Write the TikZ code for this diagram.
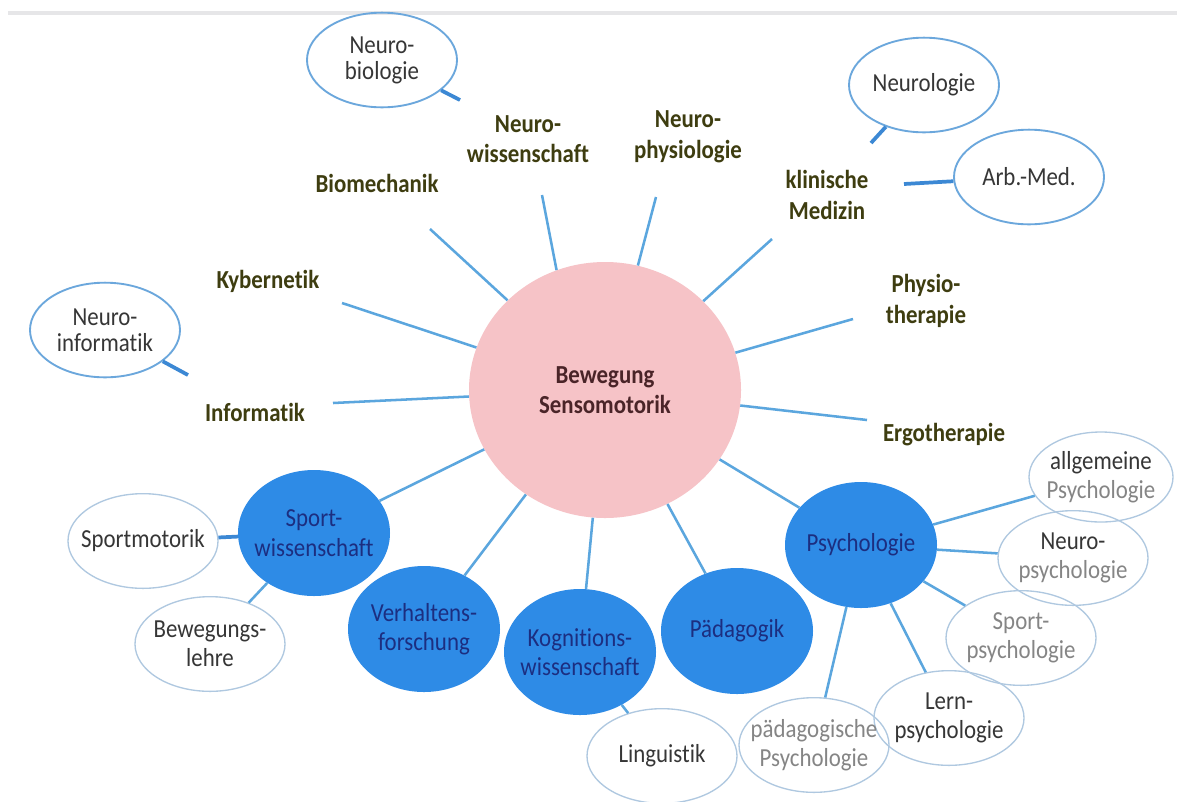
\documentclass[tikz,border=0pt]{standalone}
\usepackage{fontspec}
\setmainfont{Carlito}[FakeStretch=0.88, Ligatures=NoCommon]
\usetikzlibrary{shapes.geometric}
\definecolor{pinkfill}{HTML}{F6C3C7}
\definecolor{bluefill}{HTML}{2E8BE6}
\definecolor{spokeblue}{HTML}{5BA6DE}
\definecolor{stubblue}{HTML}{3C88D4}
\definecolor{rimdark}{HTML}{6BA7DC}
\definecolor{rimlight}{HTML}{AFC8E0}
\definecolor{olivetext}{HTML}{3E3D10}
\definecolor{navytext}{HTML}{1C2E80}
\definecolor{darktext}{HTML}{363636}
\definecolor{greytext}{HTML}{858585}
\definecolor{pinktext}{HTML}{4A2428}
\definecolor{topline}{HTML}{E6E6E8}
\begin{document}
\begin{tikzpicture}[x=0.75pt,y=-0.75pt,
 every node/.style={align=center},
 field/.style={font=\fontsize{19.5pt}{23pt}\selectfont\bfseries, text=olivetext, inner sep=0pt},
 core/.style={ellipse, fill=pinkfill, minimum width=204pt, minimum height=192pt, inner sep=-20pt,
   font=\fontsize{19.5pt}{23pt}\selectfont\bfseries, text=pinktext},
 disc/.style={ellipse, fill=bluefill, minimum width=114pt, minimum height=94.5pt, inner sep=-18pt,
   text=navytext, font=\fontsize{19.5pt}{22pt}\selectfont},
 bubble/.style={ellipse, draw=rimlight, line width=1pt, minimum width=112.5pt, minimum height=71pt,
   inner sep=-18pt, text=darktext, font=\fontsize{19.5pt}{21.5pt}\selectfont},
 bubbledark/.style={bubble, draw=rimdark, line width=1.4pt},
 spoke/.style={draw=spokeblue, line width=1.9pt},
 stub/.style={draw=stubblue, line width=2.8pt},
]
\fill[white] (0,0) rectangle (1177,801);
\useasboundingbox (0,0) rectangle (1177,801);
\draw[topline, line width=3pt] (8,13) -- (1177,13);

% centre
\node[core] (core) at (605,390) {Bewegung\\Sensomotorik};

% blue disciplines
\node[disc] (sport) at (314,533) {Sport-\\wissenschaft};
\node[disc] (verh) at (424,629) {Verhaltens-\\forschung};
\node[disc] (kogn) at (580,652) {Kognitions-\\wissenschaft};
\node[disc] (paed) at (737,631) {Pädagogik};
\node[disc] (psych) at (861,545) {Psychologie};

% field labels
\node[field] (nwiss) at (528,139) {Neuro-\\wissenschaft};
\node[field] (nphys) at (688,137) {Neuro-\\physiologie};
\node[field] (bio) at (377,183) {Biomechanik};
\node[field] (klin) at (827,195) {klinische\\Medizin};
\node[field] (kyb) at (268,281) {Kybernetik};
\node[field] (physio) at (926,301) {Physio-\\therapie};
\node[field] (inf) at (255,412) {Informatik};
\node[field] (ergo) at (944,435) {Ergotherapie};

% bubbles
\node[bubbledark, font=\fontsize{19.5pt}{19.5pt}\selectfont] (nbio) at (382,60) {Neuro-\\biologie};
\node[bubbledark, font=\fontsize{19.5pt}{19.5pt}\selectfont] (ninf) at (105,330) {Neuro-\\informatik};
\node[bubbledark] (nlog) at (924,85) {Neurologie};
\node[bubbledark] (arb) at (1029,177) {Arb.-Med.};
\node[bubble] (smot) at (143,541) {Sportmotorik};
\node[bubble] (bewl) at (210,644) {Bewegungs-\\lehre};
\node[bubble] (ling) at (662,756) {Linguistik};
\node[bubble, minimum width=108pt, minimum height=67.5pt] (allg) at (1101,477) {allgemeine\\\textcolor{greytext}{Psychologie}};
\node[bubble] (npsy) at (1073,558) {Neuro-\\\textcolor{greytext}{psychologie}};
\node[bubble, text=greytext] (spsy) at (1021,638) {Sport-\\psychologie};
\node[bubble] (lpsy) at (949,718) {Lern-\\psychologie};
\node[bubble, text=greytext] (ppsy) at (814,745) {pädagogische\\Psychologie};

% spoke ends near the field labels
\coordinate (bio-e) at (430,229);
\coordinate (nwiss-e) at (542,195);
\coordinate (nphys-e) at (656,197);
\coordinate (klin-e) at (772,239);
\coordinate (physio-e) at (853,319);
\coordinate (ergo-e) at (867,420);
\coordinate (kyb-e) at (342,303);
\coordinate (inf-e) at (333,403);

\draw[spoke] (bio-e) -- (core);
\draw[spoke] (nwiss-e) -- (core.112);
\draw[spoke] (nphys-e) -- (core);
\draw[spoke] (klin-e) -- (core);
\draw[spoke] (physio-e) -- (core);
\draw[spoke] (ergo-e) -- (core);
\draw[spoke] (kyb-e) -- (core);
\draw[spoke] (inf-e) -- (core);

\draw[spoke] (core) -- (sport);
\draw[spoke] (core) -- (verh);
\draw[spoke] (core) -- (kogn);
\draw[spoke] (core) -- (paed);
\draw[spoke] (core) -- (psych);

\draw[spoke] (psych) -- (allg);
\draw[spoke] (psych) -- (npsy);
\draw[spoke] (psych) -- (spsy);
\draw[spoke] (psych) -- (lpsy);
\draw[spoke] (psych) -- (ppsy);

% stubs
\coordinate (nbio-t) at (460,100);
\coordinate (ninf-t) at (188,375);
\coordinate (nlog-t) at (871,143);
\coordinate (arb-t) at (904,184);
\draw[stub] (nbio) -- (nbio-t);
\draw[stub] (ninf) -- (ninf-t);
\draw[stub] (nlog) -- (nlog-t);
\draw[stub] (arb) -- (arb-t);
\draw[stub] (smot) -- (sport);
\draw[spoke] (bewl) -- (sport);
\draw[spoke] (ling) -- (kogn);
\end{tikzpicture}
\end{document}
